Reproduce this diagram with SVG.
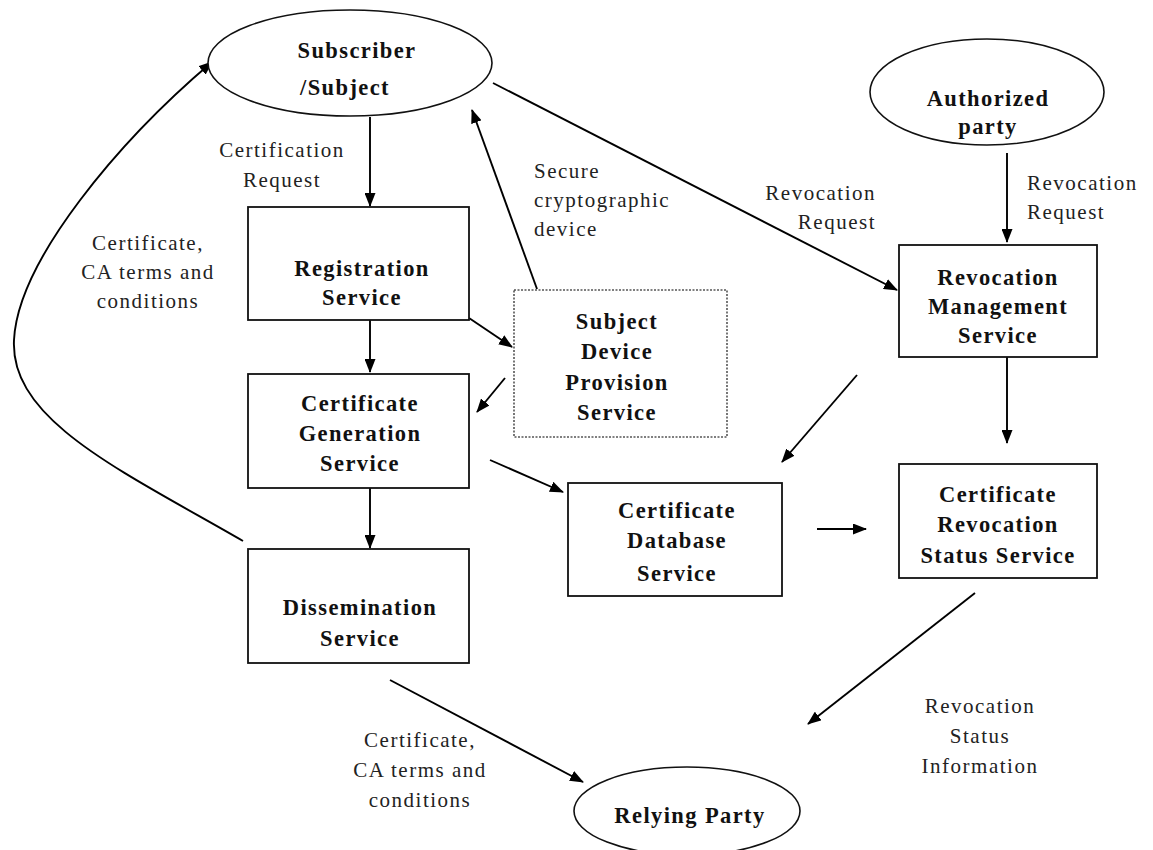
<svg xmlns="http://www.w3.org/2000/svg" width="1153" height="850" viewBox="0 0 1153 850">
<defs>
<marker id="ah" viewBox="0 0 14 11" refX="13" refY="5.5" markerWidth="14" markerHeight="11" markerUnits="userSpaceOnUse" orient="auto">
<path d="M0,0 L14,5.5 L0,11 Z" fill="#000"/>
</marker>
<style>
.box{fill:#fff;stroke:#111;stroke-width:1.8}
.dot{fill:#fff;stroke:#555;stroke-width:1.6;stroke-dasharray:2 1.5}
.ell{fill:#fff;stroke:#111;stroke-width:1.6}
.n{font-family:"Liberation Serif",serif;font-weight:bold;font-size:22.5px;letter-spacing:1.4px;text-anchor:middle;fill:#111}
.l{font-family:"Liberation Serif",serif;font-size:21px;letter-spacing:1.5px;fill:#222}
.c{text-anchor:middle}
.e{stroke:#000;stroke-width:1.9;fill:none;marker-end:url(#ah)}
</style>
</defs>
<rect width="1153" height="850" fill="#fff"/>

<g id="connectors">
<line class="e" x1="370" y1="117" x2="370" y2="206"/>
<line class="e" x1="370" y1="320" x2="370" y2="372"/>
<line class="e" x1="370" y1="488" x2="370" y2="548"/>
<line class="e" x1="469" y1="318" x2="512" y2="347"/>
<line class="e" x1="505" y1="378" x2="477" y2="412"/>
<line class="e" x1="537" y1="289" x2="472" y2="110"/>
<line class="e" x1="493" y1="83" x2="897" y2="290"/>
<line class="e" x1="1007" y1="153" x2="1007" y2="242"/>
<line class="e" x1="1007" y1="357" x2="1007" y2="443"/>
<line class="e" x1="490" y1="460" x2="563" y2="492"/>
<line class="e" x1="857" y1="375" x2="782" y2="462"/>
<line class="e" x1="817" y1="529" x2="866" y2="529"/>
<line class="e" x1="975" y1="593" x2="808" y2="724"/>
<line class="e" x1="390" y1="680" x2="583" y2="782"/>
<path class="e" d="M243,541 C120,470 10,420 14,340 C18,260 120,140 212,62"/>
</g>

<g id="labels">
<text class="l c" x="282" y="157">Certification</text>
<text class="l c" x="282" y="187">Request</text>
<text class="l" x="534" y="178">Secure</text>
<text class="l" x="534" y="207">cryptographic</text>
<text class="l" x="534" y="236">device</text>
<text class="l" x="876" y="200" text-anchor="end">Revocation</text>
<text class="l" x="876" y="229" text-anchor="end">Request</text>
<text class="l" x="1027" y="190">Revocation</text>
<text class="l" x="1027" y="219">Request</text>
<text class="l c" x="148" y="250">Certificate,</text>
<text class="l c" x="148" y="279">CA terms and</text>
<text class="l c" x="148" y="308">conditions</text>
<text class="l c" x="420" y="747">Certificate,</text>
<text class="l c" x="420" y="777">CA terms and</text>
<text class="l c" x="420" y="807">conditions</text>
<text class="l c" x="980" y="713">Revocation</text>
<text class="l c" x="980" y="743">Status</text>
<text class="l c" x="980" y="773">Information</text>
</g>

<g id="subscriber">
<ellipse class="ell" cx="350" cy="63" rx="142" ry="53"/>
<text class="n" x="357" y="58">Subscriber</text>
<text class="n" x="345" y="95">/Subject</text>
</g>

<g id="authorized">
<ellipse class="ell" cx="987" cy="92" rx="117" ry="53"/>
<text class="n" x="988" y="106">Authorized</text>
<text class="n" x="988" y="134">party</text>
</g>

<g id="registration">
<rect class="box" x="248" y="207" width="221" height="113"/>
<text class="n" x="362" y="276">Registration</text>
<text class="n" x="362" y="305">Service</text>
</g>

<g id="generation">
<rect class="box" x="248" y="374" width="221" height="114"/>
<text class="n" x="360" y="411">Certificate</text>
<text class="n" x="360" y="441">Generation</text>
<text class="n" x="360" y="471">Service</text>
</g>

<g id="dissemination">
<rect class="box" x="248" y="549" width="221" height="114"/>
<text class="n" x="360" y="615">Dissemination</text>
<text class="n" x="360" y="646">Service</text>
</g>

<g id="provision">
<rect class="dot" x="514" y="290" width="213" height="147"/>
<text class="n" x="617" y="329">Subject</text>
<text class="n" x="617" y="359">Device</text>
<text class="n" x="617" y="390">Provision</text>
<text class="n" x="617" y="420">Service</text>
</g>

<g id="database">
<rect class="box" x="568" y="483" width="214" height="113"/>
<text class="n" x="677" y="518">Certificate</text>
<text class="n" x="677" y="548">Database</text>
<text class="n" x="677" y="581">Service</text>
</g>

<g id="revmgmt">
<rect class="box" x="899" y="245" width="198" height="112"/>
<text class="n" x="998" y="285">Revocation</text>
<text class="n" x="998" y="314">Management</text>
<text class="n" x="998" y="343">Service</text>
</g>

<g id="revstatus">
<rect class="box" x="899" y="464" width="198" height="114"/>
<text class="n" x="998" y="502">Certificate</text>
<text class="n" x="998" y="532">Revocation</text>
<text class="n" x="998" y="563">Status Service</text>
</g>

<g id="relying">
<ellipse class="ell" cx="687" cy="811" rx="113" ry="44"/>
<text class="n" x="690" y="823">Relying Party</text>
</g>
</svg>
